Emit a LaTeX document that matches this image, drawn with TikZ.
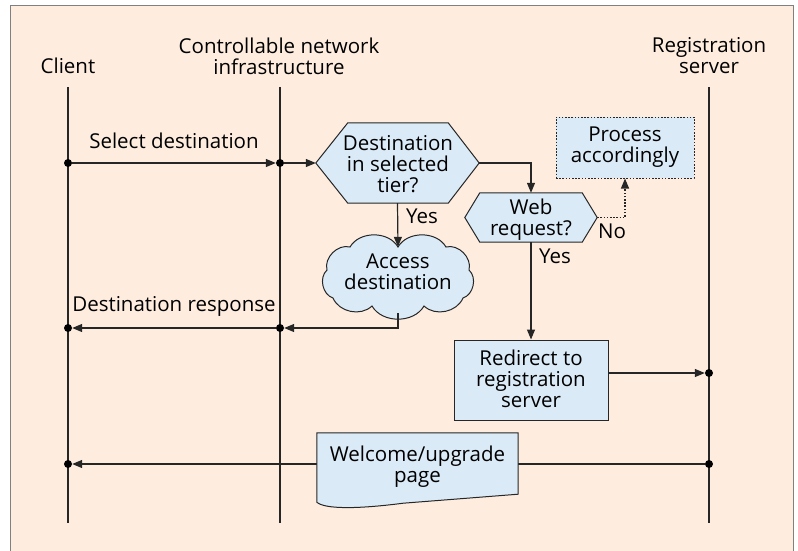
\documentclass[tikz,border=0pt]{standalone}
\usepackage{fontspec}
\setmainfont{Open Sans}
\usetikzlibrary{arrows.meta,calc}

\definecolor{panelbg}{HTML}{FEEDDF}
\definecolor{panelrule}{HTML}{808080}
\definecolor{boxfill}{HTML}{DAEAF7}

\tikzset{
  every node/.style={font=\fontsize{20.5}{21}\selectfont, align=center, inner sep=0pt},
  flow/.style={line width=1.2pt, draw=black!85},
  msg/.style={flow, -{Triangle[length=10pt,width=8pt]}},
  dotmsg/.style={line width=1.2pt, draw=black!85, dash pattern=on 1.6pt off 1.6pt, -{Triangle[length=10pt,width=8pt]}},
  lifeline/.style={line width=1.2pt, draw=black!85},
  junction/.style={circle, fill=black, minimum size=8pt, inner sep=0pt},
  shapeedge/.style={line width=1pt, draw=black!85, fill=boxfill},
  procbox/.style={draw=black!85, line width=1pt, fill=boxfill, minimum width=#1},
  tag/.style={anchor=base west},
}

\begin{document}
\begin{tikzpicture}[x=1pt, y=-1pt]
\useasboundingbox (0,0) rectangle (798,550);
% panel
\draw[fill=panelbg, draw=panelrule, line width=1.3pt] (10.5,5.5) rectangle (793.5,560);

% participants
\node (client) at (68,66) {Client};
\node (infra) at (279,56) {Controllable network\\infrastructure};
\node (reg) at (709,56) {Registration\\server};

% lifelines
\coordinate (clientTop) at (68,87);
\coordinate (clientBot) at (68,523);
\coordinate (infraTop) at (280,87);
\coordinate (infraBot) at (280,523);
\coordinate (regTop) at (709,87);
\coordinate (regBot) at (709,523);
\draw[lifeline] (clientTop) -- (clientBot);
\draw[lifeline] (infraTop) -- (infraBot);
\draw[lifeline] (regTop) -- (regBot);

% junction points on the lifelines
\node[junction] (c1) at (68,163) {};
\node[junction] (i1) at (280,163) {};
\node[junction] (c2) at (68,328) {};
\node[junction] (i2) at (280,328) {};
\node[junction] (r3) at (709,373) {};
\node[junction] (c4) at (68,464) {};
\node[junction] (r4) at (709,464) {};

% decision: destination in selected tier?
\node[minimum width=163pt, minimum height=80pt] (dest) at (397.5,163) {};
\draw[shapeedge] (dest.west) -- ($(dest.north west)+(32,0)$) -- ($(dest.north east)+(-31,0)$)
  -- (dest.east) -- ($(dest.south east)+(-31,0)$) -- ($(dest.south west)+(32,0)$) -- cycle;
\node (destText) at (398,164) {Destination\\in selected\\tier?};

% decision: web request?
\node[minimum width=132pt, minimum height=49pt] (web) at (531,217.5) {};
\draw[shapeedge] (web.west) -- ($(web.north west)+(15,0)$) -- ($(web.north east)+(-15,0)$)
  -- (web.east) -- ($(web.south east)+(-15,0)$) -- ($(web.south west)+(15,0)$) -- cycle;
\node (webText) at (531,220) {Web\\request?};

% other processing
\node[draw=black!85, line width=1pt, fill=boxfill, dash pattern=on 1.6pt off 1.6pt,
      minimum width=138pt, minimum height=61pt] (proc) at (625,147.5) {};
\node (procText) at (625,147) {Process\\accordingly};

% access destination (cloud)
\node[minimum width=146pt, minimum height=66pt] (acc) at (398,280) {};
\draw[shapeedge] (398,247) to[bend left=60] (446,247) to[bend left=60] (469,270)
  to[bend left=60] (463,298) to[bend left=55] (424,306) to[bend left=60] (372,306)
  to[bend left=55] (333,298) to[bend left=60] (327,270) to[bend left=60] (350,247)
  to[bend left=60] cycle;
\node (accText) at (398,272) {Access\\destination};

% redirect
\node[procbox=154pt, minimum height=80pt] (redir) at (531,380) {};
\node (redirText) at (531,379) {Redirect to\\registration\\server};

% messages
\draw[msg] (c1) -- (i1) node[midway, above=14pt] {Select destination};
\draw[msg] (i1) -- (dest.west);
\draw[msg] (dest.east) -| (web.north);
\draw[msg] (dest.south) -- (acc.north);
\node[tag] (yes1) at (406,223) {Yes};
\draw[dotmsg] (web.east) -| (proc.south);
\node[tag] (no) at (598,238) {No};
\draw[msg] (web.south) -- (redir.north);
\node[tag] (yes2) at (539,263) {Yes};
\draw[msg] (acc.south) |- (i2);
\draw[msg] (i2) -- (c2) node[midway, above=11pt] {Destination response};
\draw[msg] (redir.east |- r3) -- (r3);

% welcome page (document shape)
\draw[msg] (r4) -- (c4);
\node[minimum width=201pt, minimum height=61pt] (welcome) at (417.5,463.5) {};
\draw[shapeedge] (welcome.north west) -- (welcome.north east) -- (welcome.south east)
  -- ($(welcome.south east)+(-115,9)$) .. controls ($(welcome.south west)+(40,15)$) and ($(welcome.south west)+(8,15)$) .. ($(welcome.south west)+(0,8)$) -- cycle;
\node (welcomeText) at (417.5,467) {Welcome/upgrade\\page};
\end{tikzpicture}
\end{document}
